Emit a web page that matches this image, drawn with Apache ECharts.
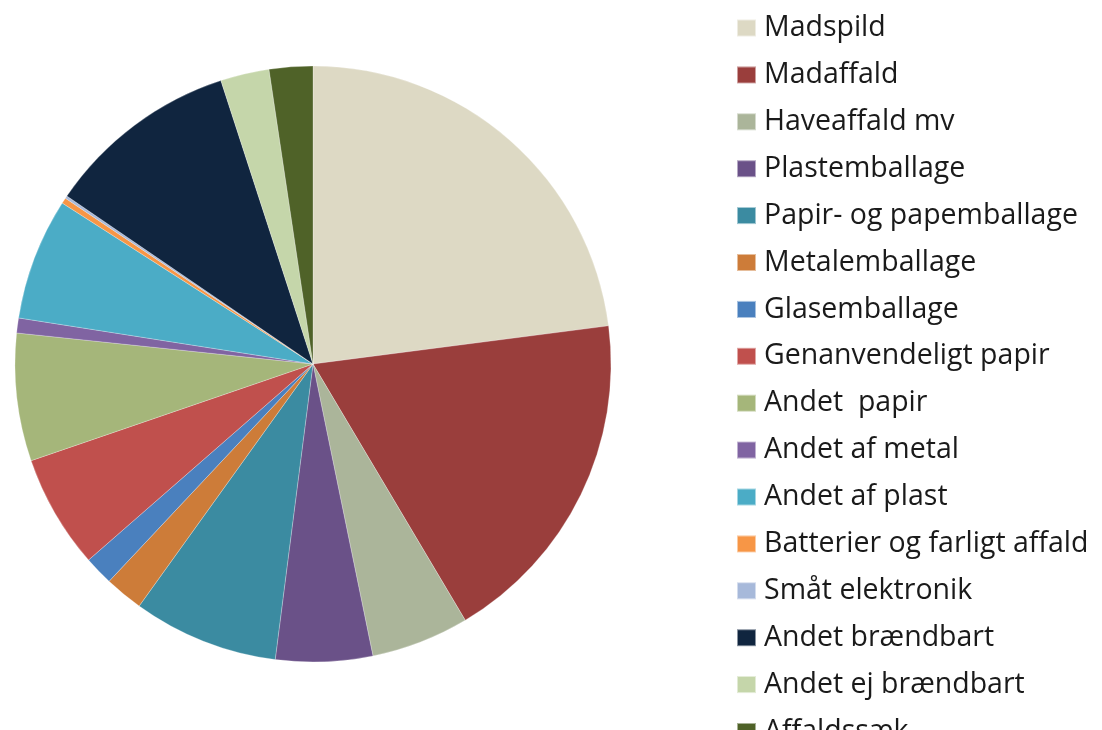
<!DOCTYPE html>
<html><head><meta charset="utf-8">
<script src="https://cdn.jsdelivr.net/npm/echarts@6/dist/echarts.min.js"></script>
<style>html,body{margin:0;padding:0;background:#fff}#c{width:1102px;height:730px}</style>
</head><body><div id="c"></div>
<script>
const categories = ["Madspild","Madaffald","Haveaffald mv","Plastemballage","Papir- og papemballage","Metalemballage","Glasemballage","Genanvendeligt papir","Andet  papir","Andet af metal","Andet af plast","Batterier og farligt affald","Småt elektronik","Andet brændbart","Andet ej brændbart","Affaldssæk"];
const values = [22.96,18.51,5.31,5.25,7.89,2.08,1.58,6.17,6.92,0.81,6.61,0.31,0.14,10.47,2.64,2.36];
const colors = ["#DDD9C4","#9A3E3C","#ABB59A","#6A5188","#3B8BA1","#CD7C39","#4A80BE","#C0504D","#A5B67A","#8064A2","#4BACC6","#F79646","#A7B9DA","#10253F","#C5D6AA","#4F6228"];
const chart = echarts.init(document.getElementById('c'), null, {renderer:'canvas'});
chart.setOption({
  animation:false,
  color: colors,
  legend:{
    orient:'vertical', left:736, top:13, height:1000, padding:0,
    itemWidth:19, itemHeight:17, itemGap:16.9,
    icon:'rect',
    textStyle:{fontFamily:'Open Sans', fontSize:28.5, color:'#1a1a1a', lineHeight:30, padding:[0,0,0,3]},
    data: categories
  },
  series:[{
    type:'pie', center:[313,364], radius:[0,298], startAngle:90, clockwise:true,
    label:{show:false}, labelLine:{show:false},
    itemStyle:{borderColor:'rgba(255,255,255,0.5)', borderWidth:0.5},
    emphasis:{disabled:true},
    data: categories.map((n,i)=>({name:n, value:values[i]}))
  }]
});
</script></body></html>
